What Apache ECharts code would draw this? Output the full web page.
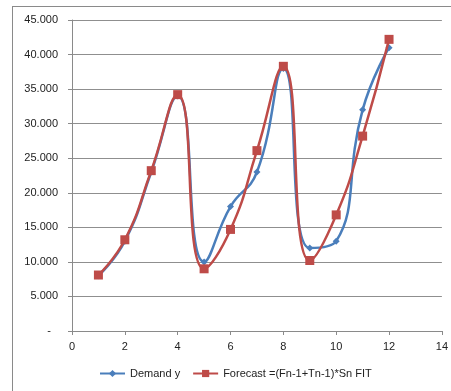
<!DOCTYPE html>
<html>
<head>
<meta charset="utf-8">
<script src="https://cdn.jsdelivr.net/npm/echarts@6/dist/echarts.min.js"></script>
<style>html,body{margin:0;padding:0;background:#fff}#c{width:451px;height:391px}</style>
</head>
<body>
<div id="c"></div>
<script>
const periods = [1, 2, 3, 4, 5, 6, 7, 8, 9, 10, 11, 12];
const demand = [8000, 13000, 23000, 34000, 10000, 18000, 23000, 38000, 12000, 13000, 32000, 41000];
const forecast = [8100, 13200, 23200, 34200, 9000, 14700, 26100, 38300, 10200, 16800, 28200, 42200];
const seriesNames = ['Demand y', 'Forecast =(Fn-1+Tn-1)*Sn FIT'];

function fmtY(v) {
  if (v === 0) return '{d|-}';
  const s = String(Math.round(v));
  return s.replace(/\B(?=(\d{3})+(?!\d))/g, '.');
}

const chart = echarts.init(document.getElementById('c'), null, {renderer: 'canvas'});
const font = 'Liberation Sans';
chart.setOption({
  animation: false,
  backgroundColor: '#fff',
  grid: {left: 72, right: 9, top: 20, bottom: 60, containLabel: false},
  graphic: [
    {type: 'line', shape: {x1: 12, y1: 6.5, x2: 451, y2: 6.5}, style: {stroke: '#8a8a8a', lineWidth: 1}},
    {type: 'line', shape: {x1: 12.5, y1: 6, x2: 12.5, y2: 391}, style: {stroke: '#8a8a8a', lineWidth: 1}}
  ],
  xAxis: {
    type: 'value', min: 0, max: 14, interval: 2,
    axisLine: {show: true, lineStyle: {color: '#8a8a8a'}},
    axisTick: {show: true, length: 4, lineStyle: {color: '#8a8a8a'}},
    splitLine: {show: false},
    axisLabel: {color: '#222', fontFamily: font, fontSize: 11, margin: 10}
  },
  yAxis: {
    type: 'value', min: 0, max: 45000, interval: 5000,
    axisLine: {show: true, lineStyle: {color: '#8a8a8a'}},
    axisTick: {show: true, length: 4, lineStyle: {color: '#8a8a8a'}},
    splitLine: {show: true, lineStyle: {color: '#8f8f8f', width: 1}},
    axisLabel: {
      color: '#222', fontFamily: font, fontSize: 11, margin: 14, formatter: fmtY,
      rich: {d: {color: '#222', fontFamily: font, fontSize: 11, padding: [0, 7, 0, 0]}}
    }
  },
  legend: {
    bottom: 7, left: 94, itemWidth: 25, itemHeight: 9, itemGap: 12,
    textStyle: {color: '#222', fontFamily: font, fontSize: 11},
    data: seriesNames
  },
  series: [
    {
      name: seriesNames[0], type: 'line', smooth: 0.5,
      data: periods.map((p, i) => [p, demand[i]]),
      symbol: 'diamond', symbolSize: 7,
      lineStyle: {color: '#4a7ebb', width: 2.5},
      itemStyle: {color: '#4a7ebb'}, z: 2
    },
    {
      name: seriesNames[1], type: 'line', smooth: 0.5,
      data: periods.map((p, i) => [p, forecast[i]]),
      symbol: 'rect', symbolSize: 9,
      lineStyle: {color: '#be4b48', width: 2.5},
      itemStyle: {color: '#be4b48'}, z: 3
    }
  ]
});
</script>
</body>
</html>
